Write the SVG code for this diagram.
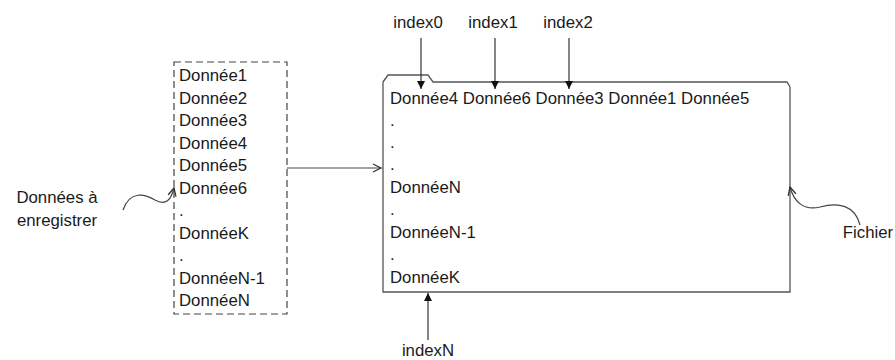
<svg xmlns="http://www.w3.org/2000/svg" width="895" height="360" viewBox="0 0 895 360">
  <defs>
    <marker id="tri" viewBox="0 0 10 10" refX="10" refY="5" markerWidth="8" markerHeight="8" markerUnits="userSpaceOnUse" orient="auto">
      <path d="M0,0 L10,5 L0,10 Z" fill="#111"/>
    </marker>
    <marker id="open" viewBox="0 0 10 10" refX="9" refY="5" markerWidth="10" markerHeight="10" markerUnits="userSpaceOnUse" orient="auto">
      <path d="M1,1 L9,5 L1,9" fill="none" stroke="#333" stroke-width="1.3"/>
    </marker>
    <style>
      text { font-family: "Liberation Sans", Arial, sans-serif; font-size: 16.8px; fill: #1a1a1a; }
      .frame { fill: #fff; stroke: #555; stroke-width: 1.3; }
      .dash { fill: none; stroke: #444; stroke-width: 1.2; stroke-dasharray: 7 4; }
      .idx { stroke: #333; stroke-width: 1.2; fill: none; marker-end: url(#tri); }
      .link { stroke: #444; stroke-width: 1.2; fill: none; marker-end: url(#open); }
    </style>
  </defs>

  <!-- data to be written -->
  <g id="donnees">
    <rect class="dash" x="174" y="62" width="113" height="252"/>
    <text x="179" y="81">Donnée1</text>
    <text x="179" y="103.5">Donnée2</text>
    <text x="179" y="126">Donnée3</text>
    <text x="179" y="148.5">Donnée4</text>
    <text x="179" y="171">Donnée5</text>
    <text x="179" y="193.5">Donnée6</text>
    <text x="179" y="216">.</text>
    <text x="179" y="238.5">DonnéeK</text>
    <text x="179" y="261">.</text>
    <text x="179" y="283.5">DonnéeN-1</text>
    <text x="179" y="306">DonnéeN</text>
  </g>

  <!-- file -->
  <g id="fichier">
    <path class="frame" d="M383,82 L388,75 L428,75 L433,82 L787,82 L790,87 L790,292 L383,292 Z"/>
    <text x="390" y="104">Donnée4 Donnée6 Donnée3 Donnée1 Donnée5</text>
    <text x="390" y="126">.</text>
    <text x="390" y="148">.</text>
    <text x="390" y="170">.</text>
    <text x="390" y="193">DonnéeN</text>
    <text x="390" y="215">.</text>
    <text x="390" y="238">DonnéeN-1</text>
    <text x="390" y="260">.</text>
    <text x="390" y="283">DonnéeK</text>
  </g>

  <g id="label-donnees">
    <text x="57" y="203" text-anchor="middle">Données à</text>
    <text x="57" y="226" text-anchor="middle">enregistrer</text>
  </g>
  <g id="label-fichier">
    <text x="868" y="238" text-anchor="middle">Fichier</text>
  </g>

  <g id="index-labels">
    <text x="418" y="28" text-anchor="middle">index0</text>
    <text x="493" y="28" text-anchor="middle">index1</text>
    <text x="568" y="28" text-anchor="middle">index2</text>
    <text x="428" y="356" text-anchor="middle">indexN</text>
  </g>

  <!-- connectors -->
  <g id="connectors">
    <line class="idx" x1="421" y1="38" x2="421" y2="89"/>
    <line class="idx" x1="495" y1="38" x2="495" y2="89"/>
    <line class="idx" x1="569" y1="38" x2="569" y2="89"/>
    <line class="idx" x1="428" y1="340" x2="428" y2="293"/>
    <line class="link" x1="287" y1="168" x2="381" y2="168"/>
    <path class="link" d="M123,210 C130,190 145,194 155,200 C166,206 171,200 174,188"/>
    <path class="link" d="M860,225 C855,205 838,202 820,207 C804,211 794,202 790,187"/>
  </g>
</svg>
